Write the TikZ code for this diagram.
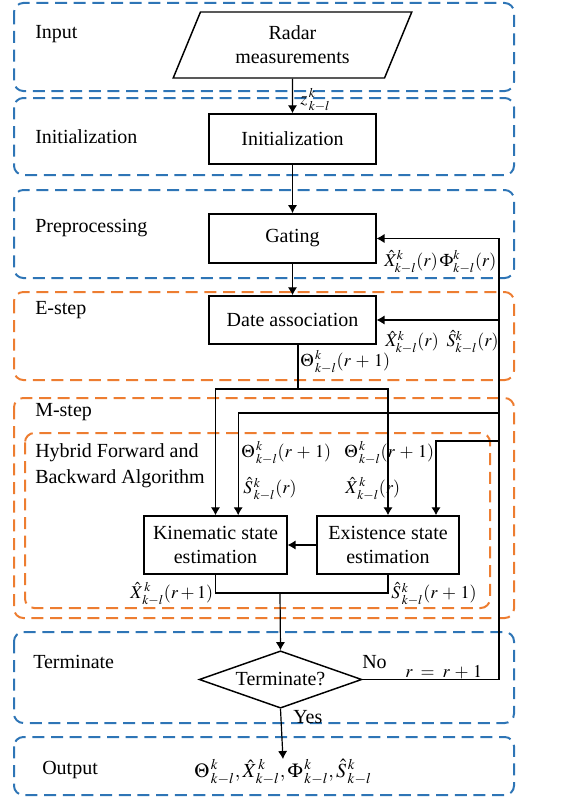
\documentclass[tikz,border=0pt]{standalone}
\usepackage{mathptmx}
\usepackage[no-math]{fontspec}
\setmainfont{Liberation Serif}
\usetikzlibrary{shapes.geometric,arrows.meta}

\definecolor{grpblue}{RGB}{46,117,182}
\definecolor{grporange}{RGB}{237,125,49}

\begin{document}
\begin{tikzpicture}[x=0.75pt,y=-0.75pt,
  group/.style={draw, line width=1.5pt, dash pattern=on 9pt off 5pt, rounded corners=7pt},
  bluegrp/.style={group, draw=grpblue},
  orangegrp/.style={group, draw=grporange},
  proc/.style={draw, line width=1.1pt, align=center, inner sep=0pt,
    font=\fontsize{15}{18}\selectfont},
  lbl/.style={anchor=west, inner sep=0pt, align=left, font=\fontsize{15}{19.5}\selectfont},
  eq/.style={anchor=west, inner sep=0pt, font=\fontsize{13.5}{15}\selectfont},
  flow/.style={line width=0.9pt, -{Latex[length=6pt,width=7pt]}},
  wire/.style={line width=0.9pt},
]
\useasboundingbox (0,0) rectangle (568,799);

% stage frames
\draw[bluegrp]   (14,3)   rectangle (514,91);
\draw[bluegrp]   (14,98)  rectangle (514,175);
\draw[bluegrp]   (14,190) rectangle (514,278);
\draw[orangegrp] (14,292) rectangle (514,380);
\draw[orangegrp] (14,398) rectangle (514,618);
\draw[orangegrp] (25,433) rectangle (490,608);
\draw[bluegrp]   (14,632) rectangle (514,723);
\draw[bluegrp]   (14,737) rectangle (514,795);

% stage titles
\node[lbl] (tInput) at (35,34)  {Input};
\node[lbl] (tInit)  at (35,137) {Initialization};
\node[lbl] (tPre)   at (35,228) {Preprocessing};
\node[lbl] (tE)     at (35,310) {E-step};
\node[lbl] (tM)     at (35,412) {M-step};
\node[lbl] (tHyb)   at (35,466) {Hybrid Forward and\\Backward Algorithm};
\node[lbl] (tTerm)  at (33,662) {Terminate};
\node[lbl] (tOut)   at (42,770) {Output};

% process blocks
\node[proc, trapezium, trapezium left angle=66, trapezium right angle=114,
      trapezium stretches=true, minimum width=179pt, minimum height=49.5pt]
      (radar) at (292.5,45) {Radar\\measurements};
\node[proc, minimum width=125pt, minimum height=37.5pt] (init)  at (292.5,139)   {Initialization};
\node[proc, minimum width=125pt, minimum height=37pt]   (gate)  at (292.5,238.5) {Gating};
\node[proc, minimum width=125pt, minimum height=36pt]   (assoc) at (292.5,320)   {Date association};
\node[proc, minimum width=107pt, minimum height=43.5pt] (kin)   at (215.5,545)   {Kinematic state\\estimation};
\node[proc, minimum width=106.5pt, minimum height=43.5pt] (exist) at (388,545)   {Existence state\\estimation};
\node[proc, diamond, aspect=2.86, minimum width=122pt, minimum height=43pt]
      (term) at (280.5,679.5) {Terminate?};
\node[inner sep=0pt, font=\fontsize{15}{17}\selectfont] (out) at (283,772)
      {$\Theta^{\,k}_{\,k-l},\hat{X}^{\,k}_{\,k-l},\Phi^{\,k}_{\,k-l},\hat{S}^{\,k}_{\,k-l}$};

% helper points
\coordinate (split) at (298,389);
\coordinate (merge) at (280,593);
\coordinate (fb)    at (499,679.5);

% main flow
\draw[flow] (radar) -- (init);
\draw[flow] (init) -- (gate);
\draw[flow] (gate) -- (assoc);
\draw[wire] (assoc.south -| split) -- (split);
\draw[flow] (split) -| (kin.north);
\draw[flow] (split) -| (exist.north);
\draw[flow] (exist.west) -- (kin.east);
\draw[wire] (kin.south) |- (merge) -- (merge -| exist.south) -- (exist.south);
\draw[flow] (merge) -- (term.north);
\draw[flow] (term.south) -- (out.north);

% feedback loop
\draw[flow] (term.east) -- (fb) |- (gate.east);
\draw[flow] (assoc.east -| fb) -- (assoc.east);
\draw[flow] (fb |- 0,413) -| ([xshift=17pt]kin.north);
\draw[flow] (fb |- 0,441) -| ([xshift=36pt]exist.north);

% signal labels
\node[eq] (lz)   at (300,100) {$z^{\,k}_{\,k-l}$};
\node[eq] (lg)   at (384,262) {$\hat{X}^{k}_{k-l}(r)\,\Phi^{k}_{k-l}(r)$};
\node[eq] (la)   at (385,342) {$\hat{X}^{k}_{k-l}(r)\;\;\hat{S}^{k}_{k-l}(r)$};
\node[eq] (lth)  at (300,362) {$\Theta^{\,k}_{\,k-l}(r\,+\,1)$};
\node[eq] (lth1) at (241,453) {$\Theta^{\,k}_{\,k-l}(r\,+\,1)$};
\node[eq] (ls1)  at (243,489) {$\hat{S}^{\,k}_{\,k-l}(r)$};
\node[eq] (lth2) at (344,453) {$\Theta^{\,k}_{\,k-l}(r\,+\,1)$};
\node[eq] (lx2)  at (345,489) {$\hat{X}^{\,k}_{\,k-l}(r)$};
\node[eq] (lxo)  at (130,594) {$\hat{X}^{\,k}_{\,k-l}(r+1)$};
\node[eq] (lso)  at (391,594) {$\hat{S}^{\,k}_{\,k-l}(r\,+\,1)$};
\node[lbl] (lno)  at (362,662) {No};
\node[eq]  (lr)   at (405,672) {$r\;=\;r\,+\,1$};
\node[lbl] (lyes) at (293,717) {Yes};
\end{tikzpicture}
\end{document}
